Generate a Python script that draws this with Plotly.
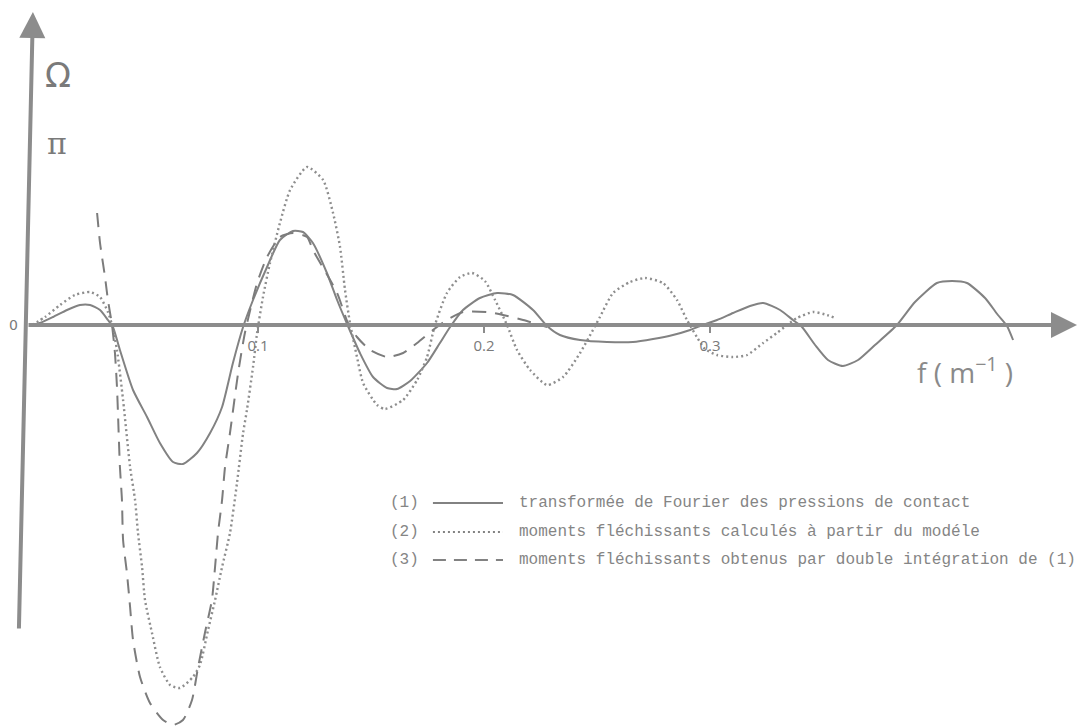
import plotly.graph_objects as go

# ---- data (f in m^-1, amplitude in arbitrary units) ----
f_fourier = [0, 0.0035, 0.0093, 0.0155, 0.0212, 0.0257, 0.0301, 0.0336, 0.0358, 0.0389, 0.0447, 0.0509,
             0.0566, 0.0624, 0.0668, 0.0730, 0.0788, 0.0841, 0.0889, 0.0934, 0.0978, 0.1040, 0.1097, 0.1155,
             0.1199, 0.1243, 0.1305, 0.1350, 0.1398, 0.1451, 0.1509, 0.1571, 0.1615, 0.1673, 0.1748, 0.1805,
             0.1850, 0.1907, 0.1982, 0.2058, 0.2128, 0.2217, 0.2279, 0.2336, 0.2425, 0.2544, 0.2659, 0.2748,
             0.2836, 0.2912, 0.2956, 0.3031, 0.3102, 0.3177, 0.3235, 0.3310, 0.3367, 0.3407, 0.3465, 0.3522,
             0.3588, 0.3655, 0.3730, 0.3827, 0.3907, 0.4004, 0.4071, 0.4137, 0.4217, 0.4274, 0.4314, 0.4341]
v_fourier = [0, 0.02, 0.08, 0.15, 0.20, 0.20, 0.15, 0.05, -0.02, -0.25, -0.65, -0.92,
             -1.18, -1.37, -1.39, -1.28, -1.08, -0.82, -0.38, -0.02, 0.25, 0.58, 0.85, 0.94,
             0.93, 0.82, 0.52, 0.25, -0.01, -0.28, -0.52, -0.63, -0.64, -0.56, -0.38, -0.18,
             -0.02, 0.15, 0.27, 0.32, 0.30, 0.15, -0.01, -0.10, -0.15, -0.17, -0.17, -0.14,
             -0.10, -0.05, -0.01, 0.05, 0.12, 0.19, 0.22, 0.15, 0.05, -0.02, -0.20, -0.35,
             -0.41, -0.35, -0.20, 0.00, 0.23, 0.42, 0.44, 0.42, 0.27, 0.10, -0.01, -0.15]

f_modele = [0, 0.0058, 0.0124, 0.0190, 0.0257, 0.0301, 0.0336, 0.0354, 0.0376, 0.0403, 0.0434, 0.0456,
            0.0469, 0.0487, 0.0500, 0.0531, 0.0566, 0.0611, 0.0655, 0.0712, 0.0743, 0.0779, 0.0810, 0.0841,
            0.0876, 0.0907, 0.0934, 0.0951, 0.0978, 0.0996, 0.1022, 0.1053, 0.1097, 0.1142, 0.1217, 0.1288,
            0.1332, 0.1363, 0.1385, 0.1407, 0.1438, 0.1465, 0.1527, 0.1562, 0.1642, 0.1704, 0.1748, 0.1783,
            0.1836, 0.1894, 0.1947, 0.2004, 0.2049, 0.2102, 0.2146, 0.2204, 0.2279, 0.2350, 0.2425, 0.2482,
            0.2513, 0.2571, 0.2646, 0.2712, 0.2792, 0.2854, 0.2898, 0.2942, 0.2978, 0.3031, 0.3102, 0.3164,
            0.3235, 0.3296, 0.3341, 0.3385, 0.3456, 0.3518, 0.3553]
v_modele = [0, 0.08, 0.20, 0.30, 0.33, 0.28, 0.13, 0.00, -0.25, -0.75, -1.42, -1.75,
            -2.08, -2.42, -2.75, -3.08, -3.42, -3.60, -3.63, -3.52, -3.40, -3.05, -2.75, -2.42,
            -2.08, -1.58, -1.08, -0.85, -0.42, -0.08, 0.28, 0.62, 1.02, 1.35, 1.58, 1.45,
            1.12, 0.78, 0.35, 0.02, -0.32, -0.58, -0.80, -0.84, -0.75, -0.55, -0.32, 0.00,
            0.32, 0.48, 0.52, 0.44, 0.25, 0.00, -0.25, -0.45, -0.60, -0.52, -0.28, -0.05,
            0.08, 0.32, 0.43, 0.47, 0.42, 0.25, 0.05, -0.12, -0.24, -0.30, -0.32, -0.30,
            -0.18, -0.08, 0.00, 0.07, 0.13, 0.10, 0.07]

f_integration = [0.0288, 0.0301, 0.0323, 0.0336, 0.0354, 0.0367, 0.0376, 0.0381, 0.0389, 0.0398, 0.0403,
                 0.0420, 0.0434, 0.0447, 0.0478, 0.0522, 0.0580, 0.0624, 0.0668, 0.0708, 0.0735, 0.0765,
                 0.0796, 0.0810, 0.0823, 0.0841, 0.0854, 0.0876, 0.0912, 0.0942, 0.0996, 0.1040, 0.1097,
                 0.1155, 0.1217, 0.1243, 0.1350, 0.1398, 0.1438, 0.1496, 0.1571, 0.1642, 0.1704, 0.1774,
                 0.1836, 0.1907, 0.2013, 0.2084, 0.2173, 0.2279]
v_integration = [1.12, 0.82, 0.48, 0.25, 0.00, -0.28, -0.62, -0.92, -1.42, -1.75, -2.15,
                 -2.48, -2.82, -3.15, -3.52, -3.78, -3.95, -4.00, -3.95, -3.75, -3.42, -3.08,
                 -2.75, -2.42, -2.08, -1.75, -1.42, -1.08, -0.48, -0.08, 0.42, 0.68, 0.88,
                 0.92, 0.88, 0.75, 0.32, 0.02, -0.12, -0.25, -0.32, -0.28, -0.18, -0.05,
                 0.05, 0.13, 0.13, 0.10, 0.05, -0.02]

tick_vals = [0.1, 0.2, 0.3]
tick_text = ["0.1", "0.2", "0.3"]

legend_nums = ["(1)", "(2)", "(3)"]
legend_texts = ["transformée de Fourier des pressions de contact",
                "moments fléchissants calculés à partir du modéle",
                "moments fléchissants obtenus par double intégration de (1)"]

GREY = "#828282"
AX = "#8c8c8c"
TXT = "#7a7a7a"

fig = go.Figure()
fig.add_trace(go.Scatter(x=f_fourier, y=v_fourier, mode="lines", hoverinfo="skip",
                         line=dict(color=GREY, width=2, shape="spline", smoothing=0.6)))
fig.add_trace(go.Scatter(x=f_modele, y=v_modele, mode="lines", hoverinfo="skip",
                         line=dict(color="#8e8e8e", width=2.4, dash="2px,3px", shape="spline", smoothing=0.6)))
fig.add_trace(go.Scatter(x=f_integration, y=v_integration, mode="lines", hoverinfo="skip",
                         line=dict(color="#7c7c7c", width=2, dash="14px,9px", shape="spline", smoothing=0.6)))

annotations = []
# axes arrows
annotations.append(dict(x=0.4624, y=0, ax=-0.0022, ay=0, xref="x", yref="y", axref="x", ayref="y",
                        text="", showarrow=True, arrowhead=2, arrowsize=1.3, arrowwidth=4, arrowcolor=AX,
                        standoff=0, startstandoff=0))
annotations.append(dict(x=0.0004, y=3.13, ax=-0.0058, ay=-3.05, xref="x", yref="y", axref="x", ayref="y",
                        text="", showarrow=True, arrowhead=2, arrowsize=1.3, arrowwidth=4, arrowcolor=AX,
                        standoff=0, startstandoff=0))
# labels
annotations.append(dict(x=-0.0084, y=0, text="0", showarrow=False, xref="x", yref="y",
                        font=dict(family="DejaVu Sans", size=14, color=TXT)))
annotations.append(dict(x=0.0115, y=2.5, text="Ω", showarrow=False, xref="x", yref="y",
                        font=dict(family="DejaVu Sans", size=34, color=TXT)))
annotations.append(dict(x=0.011, y=1.82, text="π", showarrow=False, xref="x", yref="y",
                        font=dict(family="DejaVu Serif", size=30, color=TXT)))
annotations.append(dict(x=0.4128, y=-0.45, text="f ( m<sup>−1</sup> )", showarrow=False, xref="x", yref="y",
                        font=dict(family="Open Sans", size=28, color="#8a8a8a")))

legend_y = [-1.78, -2.07, -2.35]
for i in range(3):
    annotations.append(dict(x=0.1575, y=legend_y[i], text=legend_nums[i], showarrow=False,
                            xref="x", yref="y", xanchor="left",
                            font=dict(family="Liberation Mono", size=16, color="#858585")))
    annotations.append(dict(x=0.2146, y=legend_y[i], text=legend_texts[i], showarrow=False,
                            xref="x", yref="y", xanchor="left",
                            font=dict(family="Liberation Mono", size=16, color="#858585")))

shapes = []
legend_dash = ["solid", "2px,3px", "13px,8px"]
for i in range(3):
    shapes.append(dict(type="line", xref="x", yref="y", x0=0.1774, x1=0.2084,
                       y0=legend_y[i], y1=legend_y[i],
                       line=dict(color=GREY, width=2, dash=legend_dash[i])))

fig.update_layout(
    width=1083, height=726,
    margin=dict(l=0, r=0, t=0, b=0),
    paper_bgcolor="white", plot_bgcolor="white",
    showlegend=False,
    hovermode=False,
    annotations=annotations,
    shapes=shapes,
    xaxis=dict(range=[-0.01416, 0.46504], showgrid=False, zeroline=False, showline=False,
               anchor="free", position=401 / 726, fixedrange=True,
               tickvals=tick_vals, ticktext=tick_text, ticks="outside", ticklen=7,
               tickwidth=1.5, tickcolor=AX,
               tickfont=dict(family="Open Sans", size=15, color=TXT)),
    yaxis=dict(range=[-4.01, 3.25], visible=False, showgrid=False, zeroline=False, fixedrange=True),
)

fig.write_html("out.html",
               config={"displayModeBar": False, "staticPlot": True},
               post_script="document.body.style.margin='0';document.body.style.padding='0';"
                           "document.body.style.overflow='hidden';")
